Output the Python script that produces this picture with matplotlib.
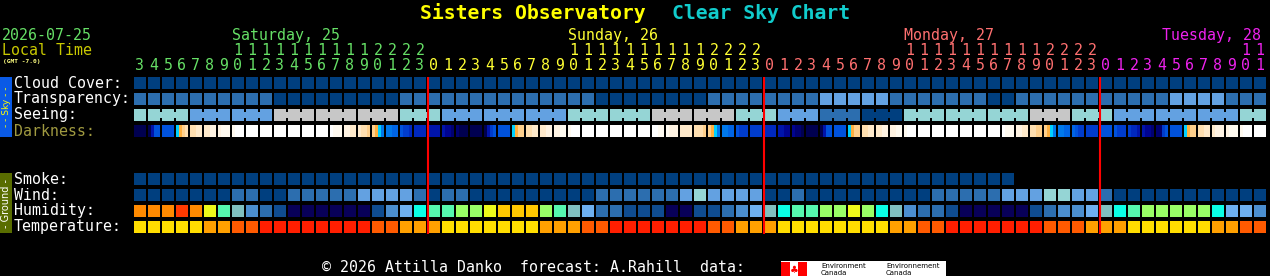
import matplotlib
matplotlib.use("Agg")
import matplotlib.pyplot as plt
from matplotlib.patches import Rectangle

# ---- data (one entry per hour, Sat 03h .. Tue 11h) ----
HOURS = list(range(3, 24)) + list(range(24)) + list(range(24)) + list(range(12))
DAY_NAMES = ["Saturday, 25", "Sunday, 26", "Monday, 27", "Tuesday, 28"]

CLOUD = ["D"] * 81
TRANSPARENCY = list("MMMMMMMMMM" "DDDDDDDDD" "MMMMMMMMMMMMMM" "DDDDDDDD" "MMMMMMMM"
                    "LLLLL" "MMMMMMM" "DD" "MMMMMMMMMMM" "LLLL" "MMM")
SEEING = list("TTTT" "LLLLLL" "GGGGGGGGG" "TTT" "LLLLLLLLL" "TTTTTT" "GGGGGG" "TTT"
              "LLL" "MMM" "DDD" "TTTTTTTTT" "GGG" "TTT" "LLLLLLLLL" "TT")
# darkness level per hour: one value, or four values across the hour
DARKNESS = [16, (16, 13, 10, 10), 10, (7, 6, 5, 4), (4, 4, 3, 3), (3, 3, 2, 2),
            (2, 1, 1, 1), (1, 0, 0, 0), 0, 0, 0, 0, 0, 0, (0, 1, 1, 1), (2, 2, 3, 3),
            (3, 4, 4, 5), (5, 6, 7, 8), (8, 8, 9, 9), (10, 11, 11, 12), 12, 13,
            (13, 14, 14, 15), (15, 16, 16, 16), 16, (16, 13, 11, 10), 10,
            (7, 6, 5, 5), (4, 4, 3, 3), (3, 3, 2, 2), (2, 2, 1, 1), (1, 0, 0, 0),
            0, 0, 0, 0, 0, (0, 0, 1, 1), (1, 2, 2, 2), 3, (4, 4, 4, 5), (5, 6, 7, 8),
            (8, 8, 9, 9), (10, 11, 11, 11), 11, 12, (13, 13, 14, 14), (14, 15, 15, 16),
            16, (16, 13, 10, 10), 10, (7, 6, 5, 5), (4, 4, 3, 3), (3, 3, 2, 2),
            (2, 2, 1, 1), (1, 0, 0, 0), 0, 0, 0, 0, 0, 0, (0, 1, 1, 1), (2, 2, 3, 3),
            (4, 4, 5, 5), (5, 6, 7, 8), (8, 8, 9, 9), (9, 10, 11, 11), 11, 10,
            (10, 11, 11, 11), (11, 12, 12, 13), (13, 14, 14, 15), (15, 15, 11, 10), 10,
            (7, 6, 5, 5), (4, 4, 3, 3), (3, 2, 2, 2), (2, 1, 1, 1), (1, 0, 0, 0), 0]
SMOKE = ["D"] * 63
WIND = list("DDDDDDD" "MM" "DD" "MMMMM" "LLLL" "M" "D" "MM" "DDDDDDDDD" "MMMMMM" "L" "T"
            "LLLL" "DD" "M" "DDDDDDDDD" "MMMMM" "LLL" "TT" "LL" "M" "DDDDDDDDDDD")
HUMIDITY = [11, 11, 11, 12, 11, 9, 7, 5, 3, 2, 1, 0, 0, 0, 0, 0, 0, 1, 3, 4, 6, 7, 7,
            8, 8, 9, 10, 10, 10, 8, 7, 5, 4, 2, 2, 1, 1, 1, 0, 0, 1, 1, 2, 3, 4, 5, 6,
            7, 7, 8, 8, 9, 8, 6, 5, 3, 2, 2, 1, 0, 0, 0, 0, 0, 1, 2, 3, 3, 4, 5, 6, 7,
            8, 8, 8, 8, 8, 6, 4, 4, 3]
TEMPERATURE = [0, 0, 0, 0, 0, 1, 1, 2, 2, 3, 3, 3, 3, 3, 3, 3, 3, 2, 2, 1, 1, 1,
               0, 0, 0, 0, 0, 0, 0, 1, 1, 1, 2, 2, 3, 3, 3, 3, 3, 3, 3, 2, 2, 1, 1, 1,
               0, 0, 0, 0, 0, 0, 0, 0, 1, 1, 2, 2, 3, 3, 3, 3, 3, 3, 3, 2, 2, 2, 1, 1, 1,
               0, 0, 0, 0, 0, 0, 1, 1, 2, 2]

# ---- colours ----
BLUES = {"D": "#003f7f", "M": "#2c6eaf", "L": "#63a1e1", "T": "#95d5d5", "G": "#c7c7c7"}
DARK_COLORS = ["#ffffff", "#fffaf0", "#fff3e2", "#ffeacb", "#ffdfb0", "#ffd08c",
               "#ffb040", "#00d0ff", "#0078ea", "#0064e4", "#0052dc", "#003ccc",
               "#0028be", "#0014aa", "#000490", "#000070", "#000050"]
HUM_COLORS = ["#080058", "#0f4c90", "#2c6eaf", "#4b8ecf", "#6eb0f0", "#80c0c0",
              "#0affe6", "#55f7af", "#99ff66", "#eefa1a", "#ffc800", "#ff8a00", "#ff3a00"]
TEMP_COLORS = ["#ffdd00", "#ffa000", "#ff5a00", "#ff1e00"]
DAY_COLORS = ["#66e066", "#ffff33", "#ff7070", "#ee22ee"]

# ---- layout (pixels) ----
W, H = 1270, 276
X0, PITCH, CELL = 134, 14, 12
CW = CELL / PITCH
MONO = "DejaVu Sans Mono"
FS = 10.7

fig = plt.figure(figsize=(W / 100, H / 100), dpi=100, facecolor="black")
ax = fig.add_axes([0, 0, 1, 1])
ax.set_xlim(0, W)
ax.set_ylim(H, 0)
ax.axis("off")

n = len(HOURS)
gx = fig.add_axes([X0 / W, 0, n * PITCH / W, 1])
gx.set_xlim(0, n)
gx.set_ylim(H, 0)
gx.axis("off")
gx.patch.set_alpha(0)


def cells(top, values, palette):
    gx.bar(range(len(values)), CELL, width=CW, bottom=top, align="edge",
           color=[palette[v] for v in values], linewidth=0, antialiased=False)


rows = [("Cloud Cover:", 77), ("Transparency:", 93), ("Seeing:", 109), ("Darkness:", 125),
        ("Smoke:", 173), ("Wind:", 189), ("Humidity:", 205), ("Temperature:", 221)]

cells(77, CLOUD, BLUES)
cells(93, TRANSPARENCY, BLUES)
cells(109, SEEING, BLUES)
for i in range(n - 1):
    if i % 3 != 0 and SEEING[i] == SEEING[i + 1]:
        gx.bar(i + CW, 6, width=1 - CW, bottom=112, align="edge",
               color=BLUES[SEEING[i]], linewidth=0, antialiased=False)
for i, d in enumerate(DARKNESS):
    parts = d if isinstance(d, tuple) else (d,) * 4
    for j, v in enumerate(parts):
        gx.bar(i + j * CW / 4, CELL, width=CW / 4, bottom=125, align="edge",
               color=DARK_COLORS[v], linewidth=0, antialiased=False)
cells(173, SMOKE, BLUES)
cells(189, WIND, BLUES)
cells(205, HUMIDITY, HUM_COLORS)
cells(221, TEMPERATURE, TEMP_COLORS)

# midnight markers
midnights = [i for i, h in enumerate(HOURS) if h == 0]
gx.vlines(midnights, 77, 234, color="#ff0000", linewidth=1.5)

# row labels
for label, top in rows:
    col = "#a09a40" if label == "Darkness:" else "white"
    ax.text(14, top + 10.5, label, color=col, fontsize=FS, family=MONO, va="baseline")

# side bars
ax.add_patch(Rectangle((0, 77), 12, 60, color="#0a5ae6", linewidth=0))
ax.text(6.5, 107, "- - Sky - -", rotation=90, color="#ffff00", fontsize=6.5,
        ha="center", va="center")
ax.add_patch(Rectangle((0, 173), 12, 60, color="#596d00", linewidth=0))
ax.text(6.5, 203, "- Ground -", rotation=90, color="white", fontsize=7,
        ha="center", va="center")

# title
ax.text(420, 19, "Sisters Observatory", color="#ffff00", fontsize=14.2,
        fontweight="bold", family=MONO, va="baseline")
ax.text(672, 19, "Clear Sky Chart", color="#11cccc", fontsize=14.2,
        fontweight="bold", family=MONO, va="baseline")

# header
ax.text(2, 40, "2026-07-25", color=DAY_COLORS[0], fontsize=FS, family=MONO, va="baseline")
ax.text(2, 55, "Local Time", color="#c8c800", fontsize=FS, family=MONO, va="baseline")
ax.text(3, 62.5, "(GMT -7.0)", color="#ffff80", fontsize=4.5, fontweight="bold",
        family=MONO, va="baseline")
for name, x, col in zip(DAY_NAMES, [232, 568, 904, 1162], DAY_COLORS):
    ax.text(x, 40, name, color=col, fontsize=FS, family=MONO, va="baseline")

day = 0
for i, h in enumerate(HOURS):
    if h == 0 and i > 0:
        day += 1
    col = DAY_COLORS[day]
    if h >= 10:
        gx.text(i + CW / 2, 55, str(h // 10), color=col, fontsize=FS, family=MONO,
                ha="center", va="baseline")
    gx.text(i + CW / 2, 70.5, str(h % 10), color=col, fontsize=FS, family=MONO,
            ha="center", va="baseline")

# footer
ax.text(322, 272, "\u00a9 2026 Attilla Danko  forecast: A.Rahill  data:", color="white",
        fontsize=FS, family=MONO, va="baseline")
ax.add_patch(Rectangle((781, 261), 165, 15, color="white", linewidth=0))
ax.add_patch(Rectangle((781, 262), 9, 14, color="#ff0000", linewidth=0))
ax.add_patch(Rectangle((798, 262), 9, 14, color="#ff0000", linewidth=0))
ax.text(794, 270, "\u2663", color="#ff0000", fontsize=7, ha="center", va="center")
ax.text(821, 268, "Environment", color="black", fontsize=5, va="baseline")
ax.text(821, 275, "Canada", color="black", fontsize=5, va="baseline")
ax.text(886, 268, "Environnement", color="black", fontsize=5, va="baseline")
ax.text(886, 275, "Canada", color="black", fontsize=5, va="baseline")

fig.savefig("out.png", dpi=100, facecolor="black")
